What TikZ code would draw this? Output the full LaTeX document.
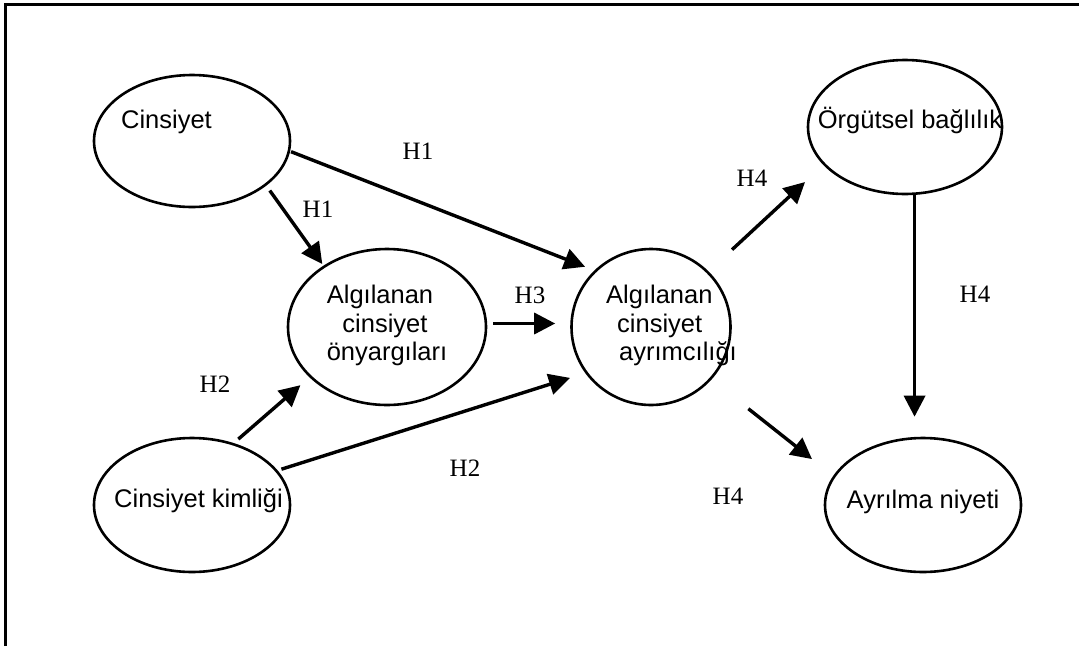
\documentclass[tikz,border=0pt]{standalone}
\usepackage{fontspec}
\setmainfont{Liberation Serif}
\setsansfont{Liberation Sans}
\usetikzlibrary{shapes.geometric,arrows.meta,calc}
\begin{document}
\begin{tikzpicture}[x=1pt,y=-1pt,
  oval/.style={draw, ellipse, line width=2.6pt, inner sep=0pt},
  lbl/.style={font=\sffamily\fontsize{25.5}{29}\selectfont, inner sep=0pt, anchor=base},
  lblw/.style={lbl, anchor=base west},
  hyp/.style={font=\rmfamily\fontsize{25}{29}\selectfont, inner sep=0pt, anchor=base},
  arr/.style={line width=3.4pt, -{Triangle[length=21pt,width=21pt]}}]
\useasboundingbox (0,0) rectangle (1079,646);
\draw[line width=3pt] (5,646) -- (5,4) -- (1079,4);

% ellipses
\node[oval, minimum width=196pt, minimum height=132pt] (cins) at (192,141) {};
\node[oval, minimum width=198pt, minimum height=156pt] (ony) at (387,327) {};
\node[oval, minimum width=159pt, minimum height=156pt] (ayr) at (651,327) {};
\node[oval, minimum width=194pt, minimum height=134pt] (org) at (905,127) {};
\node[oval, minimum width=196pt, minimum height=134pt] (kim) at (192,505) {};
\node[oval, minimum width=196pt, minimum height=134pt] (ayl) at (923,505) {};

% texts
\node[lbl] (tcins) at (166.5,128) {Cinsiyet};
\node[lbl] (tony1) at (380,303) {Algılanan};
\node[lbl] (tony2) at (385,332) {cinsiyet};
\node[lbl] (tony3) at (387,360) {önyargıları};
\node[lblw] (tayr1) at (606,303) {Algılanan};
\node[lblw] (tayr2) at (617,332) {cinsiyet};
\node[lblw] (tayr3) at (619,360) {ayrımcılığı};
\node[lbl] (torg) at (910,128) {Örgütsel bağlılık};
\node[lbl] (tkim) at (198.5,507) {Cinsiyet kimliği};
\node[lbl] (tayl) at (923,508) {Ayrılma niyeti};

% hypothesis labels
\node[hyp] (h1a) at (418,159) {H1};
\node[hyp] (h1b) at (318,217) {H1};
\node[hyp] (h3) at (530,303) {H3};
\node[hyp] (h2a) at (215,392) {H2};
\node[hyp] (h2b) at (465,476) {H2};
\node[hyp] (h4a) at (752,186) {H4};
\node[hyp] (h4b) at (975,302) {H4};
\node[hyp] (h4c) at (728,504) {H4};

% arrows
\draw[arr, shorten <=6pt, shorten >=2pt] (cins.-31) -- (ony.136);
\draw[arr, shorten <=1pt, shorten >=10pt] (cins.-6.4) -- (ayr.135.5);
\draw[arr, shorten <=6pt, shorten >=15pt] (ony.2.7) -- (ony.2.7 -| ayr.west);
\draw[arr, shorten <=6pt, shorten >=12pt] (kim.56.9) -- (ony.-147.2);
\draw[arr, shorten <=4pt, shorten >=16pt] (kim.22.2) -- (ayr.-145.8);
\draw[arr, shorten <=32pt, shorten >=25pt] (ayr.44.3) -- (org.-155.7);
\draw[arr, shorten >=20pt] (org.-82) -- (org.-82 |- ayl.north);
\draw[arr, shorten <=47pt, shorten >=27pt] (ayr.-41.4) -- (ayl.162.6);
\end{tikzpicture}
\end{document}
